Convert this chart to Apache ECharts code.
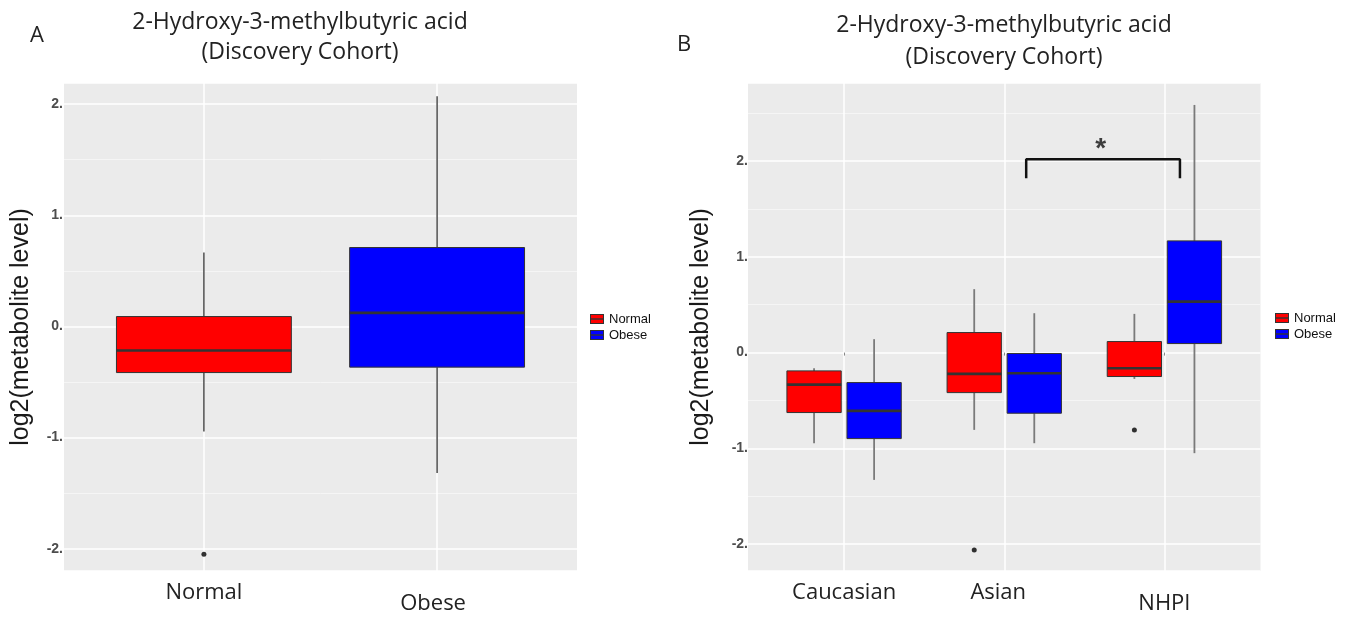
<!DOCTYPE html>
<html>
<head>
<meta charset="utf-8">
<script src="https://cdn.jsdelivr.net/npm/echarts@6/dist/echarts.min.js"></script>
<style>
  html, body { margin: 0; padding: 0; background: #fff; }
  #chart { width: 1351px; height: 619px; }
</style>
</head>
<body>
<div id="chart"></div>
<script>
// A: whole discovery cohort
var groupsA = ['Normal', 'Obese'];
// [lower whisker, Q1, median, Q3, upper whisker]
var normalA = [-0.944, -0.415, -0.217, 0.089, 0.665];
var obeseA = [-1.318, -0.366, 0.122, 0.71, 2.07];
var outliersNormalA = [-2.05];

// B: split by ethnicity
var ethnicities = ['Caucasian', 'Asian', 'NHPI'];
var normalB = [
  [-0.946, -0.626, -0.334, -0.191, -0.163],
  [-0.807, -0.418, -0.222, 0.209, 0.662],
  [-0.275, -0.25, -0.163, 0.115, 0.404]
];
var obeseB = [
  [-1.329, -0.898, -0.609, -0.313, 0.14],
  [-0.946, -0.633, -0.215, -0.01, 0.411],
  [-1.05, 0.094, 0.532, 1.166, 2.585]
];
// [ethnicity index, value]
var outliersNormalB = [[1, -2.06], [2, -0.807]];

// significance bracket (Asian obese vs NHPI obese)
var bracketX = [2.137, 3.097];
var bracketY = [1.82, 2.018];
var starPos = [2.602, 2.125];

var RED = '#FF0000', BLUE = '#0000FF';
var dodge = 0.1875;

var chart = echarts.init(document.getElementById('chart'));

function boxRenderer(boxWidth, whiskerColor, whiskerWidth) {
  return function (params, api) {
    var x = api.value(0);
    var lo = api.coord([x, api.value(1)]);
    var q1 = api.coord([x, api.value(2)]);
    var md = api.coord([x, api.value(3)]);
    var q3 = api.coord([x, api.value(4)]);
    var hi = api.coord([x, api.value(5)]);
    var w = api.size([boxWidth, 0])[0];
    var cx = md[0];
    return {
      type: 'group',
      children: [
        { type: 'line', shape: { x1: cx, y1: hi[1], x2: cx, y2: q3[1] }, style: { stroke: whiskerColor, lineWidth: whiskerWidth } },
        { type: 'line', shape: { x1: cx, y1: q1[1], x2: cx, y2: lo[1] }, style: { stroke: whiskerColor, lineWidth: whiskerWidth } },
        { type: 'rect', shape: { x: cx - w / 2, y: q3[1], width: w, height: q1[1] - q3[1] }, style: { fill: api.visual('color'), stroke: '#333', lineWidth: 1 } },
        { type: 'line', shape: { x1: cx - w / 2, y1: md[1], x2: cx + w / 2, y2: md[1] }, style: { stroke: '#333', lineWidth: 2.6 } }
      ]
    };
  };
}

function legendIcon(color) {
  var svg = '<svg xmlns="http://www.w3.org/2000/svg" width="14" height="10">' +
    '<rect x="0.5" y="0.5" width="13" height="9" fill="' + color + '" stroke="#333"/>' +
    '<line x1="0" y1="5" x2="14" y2="5" stroke="#333" stroke-width="1.4"/></svg>';
  return 'image://data:image/svg+xml;charset=utf-8,' + encodeURIComponent(svg);
}

var labelFont = { fontFamily: 'Open Sans', fontSize: 22, color: '#222', lineHeight: 24 };

function xAxisOf(gridIndex, cats, shifts) {
  var ticks = cats.map(function (c, i) { return i + 1; });
  var rich = {};
  cats.forEach(function (c, i) {
    rich['c' + i] = Object.assign({ padding: shifts[i] }, labelFont);
  });
  return {
    gridIndex: gridIndex,
    type: 'value',
    min: 0.4,
    max: cats.length + 0.6,
    axisLine: { show: false },
    axisTick: { show: true, customValues: ticks, length: 3, lineStyle: { color: '#888' } },
    axisLabel: {
      customValues: ticks,
      margin: 10,
      formatter: function (v) {
        var i = Math.round(v) - 1;
        return '{c' + i + '|' + cats[i] + '}';
      },
      rich: rich
    },
    splitLine: { show: true, lineStyle: { color: '#fff', width: 1.5 } }
  };
}

function yAxisOf(gridIndex, min, max, gap, margin) {
  return {
    gridIndex: gridIndex,
    type: 'value',
    min: min,
    max: max,
    splitNumber: 4,
    name: 'log2(metabolite level)',
    nameLocation: 'middle',
    nameGap: gap,
    nameTextStyle: { fontFamily: 'Liberation Sans', fontSize: 25, color: '#1a1a1a' },
    axisLine: { show: false },
    axisTick: { show: false },
    axisLabel: {
      margin: margin,
      fontFamily: 'Liberation Sans',
      fontSize: 14,
      fontWeight: 'bold',
      color: '#4d4d4d',
      formatter: function (v) { return Number.isInteger(v) ? v + '.' : ''; }
    },
    splitLine: { show: true, lineStyle: { color: '#fff', width: 1.5 } },
    minorTick: { show: false, splitNumber: 2 },
    minorSplitLine: { show: true, lineStyle: { color: '#f5f5f5', width: 1 } }
  };
}

function legendOf(left, top) {
  return {
    orient: 'vertical',
    left: left,
    top: top,
    padding: 0,
    itemGap: 2,
    itemWidth: 14,
    itemHeight: 10,
    selectedMode: false,
    textStyle: { fontFamily: 'Liberation Sans', fontSize: 13, color: '#111', lineHeight: 14 },
    data: [
      { name: 'Normal', icon: legendIcon(RED) },
      { name: 'Obese', icon: legendIcon(BLUE) }
    ]
  };
}

function textEl(x, y, text, size) {
  return {
    type: 'text', x: x, y: y,
    style: { text: text, fill: '#222', font: size + 'px "Open Sans"', textAlign: 'center', textVerticalAlign: 'middle' }
  };
}

var option = {
  animation: false,
  grid: [
    { left: 64, top: 83, width: 513, height: 488, show: true, backgroundColor: '#EBEBEB', borderWidth: 0, outerBoundsMode: 'none' },
    { left: 748, top: 83, width: 512.5, height: 488, show: true, backgroundColor: '#EBEBEB', borderWidth: 0, outerBoundsMode: 'none' }
  ],
  xAxis: [
    xAxisOf(0, groupsA, [[0, 0, 0, 0], [22, 8, 0, 0]]),
    xAxisOf(1, ethnicities, [[0, 0, 0, 0], [0, 12, 0, 0], [22, 0, 0, 0]])
  ],
  yAxis: [
    yAxisOf(0, -2.2, 2.19, 30, 1),
    yAxisOf(1, -2.28, 2.814, 34, 0)
  ],
  legend: [legendOf(590, 312), legendOf(1275, 311)],
  graphic: [
    textEl(37, 36, 'A', 22),
    textEl(300, 22, '2-Hydroxy-3-methylbutyric acid', 23),
    textEl(300, 52, '(Discovery Cohort)', 23),
    textEl(684, 45, 'B', 22),
    textEl(1004, 25, '2-Hydroxy-3-methylbutyric acid', 23),
    textEl(1004, 57, '(Discovery Cohort)', 23)
  ],
  series: [
    {
      name: 'Normal', type: 'custom', xAxisIndex: 0, yAxisIndex: 0,
      itemStyle: { color: RED },
      encode: { x: 0, y: [1, 2, 3, 4, 5] },
      renderItem: boxRenderer(0.75, '#333', 1.3),
      data: [[1].concat(normalA)]
    },
    {
      name: 'Obese', type: 'custom', xAxisIndex: 0, yAxisIndex: 0,
      itemStyle: { color: BLUE },
      encode: { x: 0, y: [1, 2, 3, 4, 5] },
      renderItem: boxRenderer(0.75, '#333', 1.3),
      data: [[2].concat(obeseA)]
    },
    {
      name: 'outliers', type: 'scatter', xAxisIndex: 0, yAxisIndex: 0,
      symbolSize: 5, itemStyle: { color: '#000' },
      data: outliersNormalA.map(function (v) { return [1, v]; })
    },
    {
      name: 'Normal', type: 'custom', xAxisIndex: 1, yAxisIndex: 1,
      itemStyle: { color: RED },
      encode: { x: 0, y: [1, 2, 3, 4, 5] },
      renderItem: boxRenderer(0.339, '#7a7a7a', 1.8),
      data: normalB.map(function (b, i) { return [i + 1 - dodge].concat(b); })
    },
    {
      name: 'Obese', type: 'custom', xAxisIndex: 1, yAxisIndex: 1,
      itemStyle: { color: BLUE },
      encode: { x: 0, y: [1, 2, 3, 4, 5] },
      renderItem: boxRenderer(0.339, '#7a7a7a', 1.8),
      data: obeseB.map(function (b, i) { return [i + 1 + dodge].concat(b); })
    },
    {
      name: 'outliers', type: 'scatter', xAxisIndex: 1, yAxisIndex: 1,
      symbolSize: 5, itemStyle: { color: '#000' },
      data: outliersNormalB.map(function (o) { return [o[0] + 1 - dodge, o[1]]; })
    },
    {
      name: 'bracket', type: 'line', xAxisIndex: 1, yAxisIndex: 1,
      symbol: 'none', lineStyle: { color: '#111', width: 2.5 },
      data: [[bracketX[0], bracketY[0]], [bracketX[0], bracketY[1]], [bracketX[1], bracketY[1]], [bracketX[1], bracketY[0]]]
    },
    {
      name: 'star', type: 'scatter', xAxisIndex: 1, yAxisIndex: 1,
      symbolSize: 0,
      label: { show: true, position: 'inside', formatter: '*', fontFamily: 'Liberation Sans', fontSize: 28, fontWeight: 'bold', color: '#111' },
      data: [starPos]
    }
  ]
};

chart.setOption(option);
</script>
</body>
</html>
